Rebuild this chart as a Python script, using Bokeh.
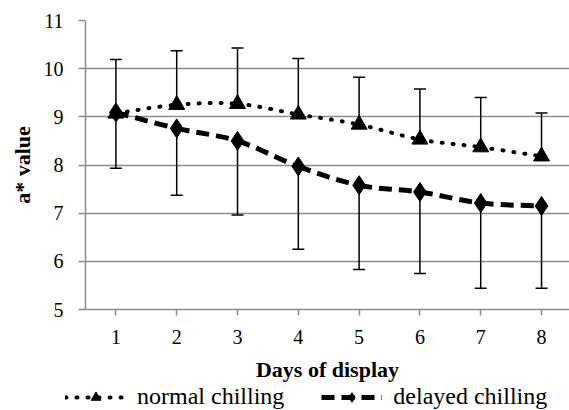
import numpy as np
from bokeh.plotting import figure
from bokeh.layouts import column
from bokeh.models import (ColumnDataSource, Whisker, TeeHead, Legend, LegendItem,
                          FixedTicker, Range1d)
from bokeh.embed import file_html
from bokeh.resources import INLINE

days = [1, 2, 3, 4, 5, 6, 7, 8]
normal = [9.07, 9.25, 9.27, 9.05, 8.84, 8.53, 8.37, 8.18]
normal_upper = [10.19, 10.37, 10.43, 10.21, 9.82, 9.58, 9.40, 9.08]
delayed = [9.09, 8.76, 8.50, 7.97, 7.58, 7.44, 7.21, 7.15]
delayed_lower = [7.93, 7.37, 6.96, 6.25, 5.83, 5.75, 5.44, 5.44]
y_ticks = [5, 6, 7, 8, 9, 10, 11]
x_label = "Days of display"
y_label = "a* value"
names = ["normal chilling", "delayed chilling"]

FONT = "Liberation Serif"
GRID = "#8c8c8c"


def smooth(xs, ys):
    x = np.asarray(xs, float)
    y = np.asarray(ys, float)
    xm = np.r_[x[0], x[:-2]]
    ym = np.r_[y[0], y[:-2]]
    xn = np.r_[x[2:], x[-1]]
    yn = np.r_[y[2:], y[-1]]
    x0, x1, y0, y1 = x[:-1], x[1:], y[:-1], y[1:]
    return dict(x0=x0, y0=y0, x1=x1, y1=y1,
                cx0=x0 + (x1 - xm) / 6, cy0=y0 + (y1 - ym) / 6,
                cx1=x1 - (xn - x0) / 6, cy1=y1 - (yn - y0) / 6)


p = figure(width=569, height=384, x_range=Range1d(0.5, 8.46), y_range=Range1d(5, 11),
           output_backend="svg", toolbar_location=None,
           min_border_left=85, min_border_right=0, min_border_top=20, min_border_bottom=72)
p.frame_align = False
p.outline_line_color = None
p.background_fill_color = "white"
p.xgrid.visible = False
p.ygrid.grid_line_color = GRID
p.ygrid.grid_line_width = 1.5

p.yaxis.ticker = FixedTicker(ticks=y_ticks)
p.xaxis.ticker = FixedTicker(ticks=days)
for ax in (p.xaxis, p.yaxis):
    ax.axis_line_color = GRID
    ax.axis_line_width = 1.5
    ax.major_tick_line_color = GRID
    ax.major_tick_line_width = 1.5
    ax.major_tick_in = 0
    ax.minor_tick_line_color = None
    ax.major_label_text_font = FONT
    ax.major_label_text_font_size = "20px"
    ax.major_label_text_color = "black"
    ax.axis_label_text_font = FONT
    ax.axis_label_text_font_size = "22px"
    ax.axis_label_text_font_style = "bold"
    ax.axis_label_text_color = "black"
p.yaxis.major_tick_out = 7
p.yaxis.major_label_standoff = 15
p.yaxis.axis_label = y_label
p.yaxis.axis_label_standoff = 6
p.xaxis.major_tick_out = 6
p.xaxis.major_label_standoff = 14
p.xaxis.axis_label = x_label
p.xaxis.axis_label_standoff = 10

# error bars
src_n = ColumnDataSource(dict(x=days, y=normal, upper=normal_upper))
src_d = ColumnDataSource(dict(x=days, y=delayed, lower=delayed_lower))
wn = Whisker(base="x", upper="upper", lower="y", source=src_n, dimension="height",
             line_color="black", line_width=1.5,
             upper_head=TeeHead(size=12, line_width=1.5, line_color="black"), lower_head=None)
wd = Whisker(base="x", upper="y", lower="lower", source=src_d, dimension="height",
             line_color="black", line_width=1.5,
             lower_head=TeeHead(size=12, line_width=1.5, line_color="black"), upper_head=None)
p.add_layout(wn)
p.add_layout(wd)

# smoothed lines
dot_style = dict(line_color="black", line_width=4, line_dash="1 10", line_cap="round")
dash_style = dict(line_color="black", line_width=5, line_dash="13 7")
p.bezier(source=ColumnDataSource(smooth(days, normal)), **dot_style)
p.bezier(source=ColumnDataSource(smooth(days, delayed)), **dash_style)

p.scatter("x", "y", source=src_n, marker="triangle", size=16, color="black")
p.scatter("x", "y", source=src_d, marker="diamond", size=19, color="black")

# legend strip below the chart (its ranges keep the data itself out of view)
lg = figure(width=569, height=26, x_range=Range1d(-2, -1), y_range=Range1d(-2, -1),
            output_backend="svg", toolbar_location=None,
            min_border_left=0, min_border_right=0, min_border_top=0, min_border_bottom=0,
            x_axis_location=None, y_axis_location=None)
lg.frame_align = False
lg.grid.visible = False
lg.outline_line_color = None
ln = lg.line("x", "y", source=src_n, **dot_style)
ld = lg.line("x", "y", source=src_d, **dash_style)
mn = lg.scatter("x", "y", source=src_n, marker="triangle", size=16, color="black")
md = lg.scatter("x", "y", source=src_d, marker="diamond", size=19, color="black")

legend = Legend(items=[LegendItem(label=names[0], renderers=[ln, mn], index=0),
                       LegendItem(label=names[1], renderers=[ld, md], index=0)],
                orientation="horizontal", location=(65, 0),
                glyph_width=61, glyph_height=24, label_standoff=11, spacing=37,
                padding=0, margin=0, border_line_color=None, background_fill_alpha=0,
                label_text_font=FONT, label_text_font_size="24px", label_height=24,
                label_text_baseline="middle", label_text_color="black")
lg.add_layout(legend, "center")

open("out.html", "w").write(file_html(column(p, lg, spacing=0), INLINE))
